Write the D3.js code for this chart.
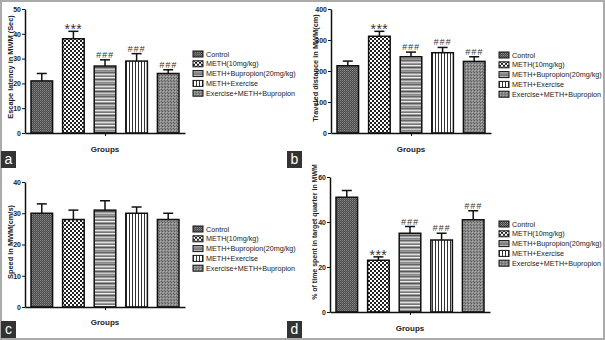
<!DOCTYPE html>
<html>
<head>
<meta charset="utf-8">
<script src="https://cdn.jsdelivr.net/npm/d3@7"></script>
<style>
body{margin:0;background:#fff;}
text{font-family:"Liberation Sans",Arial,sans-serif;}
</style>
</head>
<body>
<svg id="s"></svg>
<script>
var groups = ["Control","METH(10mg/kg)","METH+Bupropion(20mg/kg)","METH+Exercise","Exercise+METH+Bupropion"];

var escapeMean = [21,38,27,29,24];
var escapeErr  = [3,3,2.5,3,1.5];
var escapeSig  = ["","***","###","###","###"];

var distMean = [217,312,246,259,231];
var distErr  = [15,16,15,17,15];
var distSig  = ["","***","###","###","###"];

var speedMean = [30,28,31,30,28];
var speedErr  = [3,3,3,2,2];
var speedSig  = ["","","","",""];

var timeMean = [51,23,35,32,41];
var timeErr  = [3,1.5,3,3,4];
var timeSig  = ["","***","###","###","###"];

var escapeTicks = [0,10,20,30,40,50];
var distTicks = [0,100,200,300,400];
var speedTicks = [0,10,20,30,40];
var timeTicks = [0,20,40,60];

var patIds = ["pCtrl","pMeth","pBup","pEx","pEmb"];

var svg = d3.select('#s').attr('width',605).attr('height',340);

// fill patterns
var defs = svg.append('defs');
var p = defs.append('pattern').attr('id','pCtrl').attr('patternUnits','userSpaceOnUse').attr('width',2).attr('height',2);
p.append('rect').attr('width',2).attr('height',2).attr('fill','#4a4a4a');
p.append('rect').attr('width',1).attr('height',1).attr('fill','#8a8a8a');
p.append('rect').attr('x',1).attr('y',1).attr('width',1).attr('height',1).attr('fill','#6a6a6a');

p = defs.append('pattern').attr('id','pMeth').attr('patternUnits','userSpaceOnUse').attr('width',4).attr('height',4);
p.append('rect').attr('width',4).attr('height',4).attr('fill','#fff');
p.append('rect').attr('width',2).attr('height',2).attr('fill','#222');
p.append('rect').attr('x',2).attr('y',2).attr('width',2).attr('height',2).attr('fill','#222');

p = defs.append('pattern').attr('id','pBup').attr('patternUnits','userSpaceOnUse').attr('width',4).attr('height',12);
p.append('rect').attr('width',4).attr('height',12).attr('fill','#9a9a9a');
[["#666",0],["#ddd",2],["#777",4],["#eee",5],["#555",7],["#ccc",9],["#888",10]].forEach(function(r){
  p.append('rect').attr('y',r[1]).attr('width',4).attr('height',1).attr('fill',r[0]);
});

p = defs.append('pattern').attr('id','pEx').attr('patternUnits','userSpaceOnUse').attr('width',3).attr('height',3);
p.append('rect').attr('width',3).attr('height',3).attr('fill','#fff');
p.append('rect').attr('width',1).attr('height',3).attr('fill','#333');

p = defs.append('pattern').attr('id','pEmb').attr('patternUnits','userSpaceOnUse').attr('width',3).attr('height',3);
p.append('rect').attr('width',3).attr('height',3).attr('fill','#8c8c8c');
p.append('rect').attr('width',1).attr('height',1).attr('fill','#5a5a5a');
p.append('rect').attr('x',1).attr('y',1).attr('width',1).attr('height',1).attr('fill','#b0b0b0');
p.append('rect').attr('x',2).attr('y',2).attr('width',1).attr('height',1).attr('fill','#666');

// outer frame
svg.append('rect').attr('x',1).attr('y',1).attr('width',603).attr('height',338)
  .attr('fill','none').attr('stroke','#aaa').attr('stroke-width',2);

var panels = [
  {mean:escapeMean, err:escapeErr, sig:escapeSig, ticks:escapeTicks, max:50, x0:25, y0:133, y1:9,
   title:"Escape latency in MWM (Sec)", tx:10, ty:67, tfs:7.4, groupsY:152, legY:54, legX:193, tag:"a", tagX:1, tagY:151},
  {mean:distMean, err:distErr, sig:distSig, ticks:distTicks, max:400, x0:331, y0:133, y1:9,
   title:"Traveled distance in MWM(cm)", tx:315, ty:68, tfs:7.4, groupsY:152, legY:55, legX:499, tag:"b", tagX:287, tagY:151},
  {mean:speedMean, err:speedErr, sig:speedSig, ticks:speedTicks, max:40, x0:25, y0:307, y1:182,
   title:"Speed in MWM(cm/s)", tx:10, ty:242, tfs:7.4, groupsY:325, legY:229, legX:193, tag:"c", tagX:1, tagY:321},
  {mean:timeMean, err:timeErr, sig:timeSig, ticks:timeTicks, max:60, x0:330, y0:312, y1:177,
   title:"% of time spent in target quarter in MWM", tx:315, ty:232, tfs:7, groupsY:331, legY:224, legX:499, tag:"d", tagX:287, tagY:321}
];

panels.forEach(function(P){
  var g = svg.append('g');
  var x = d3.scaleBand().domain(groups).range([P.x0, P.x0+160]).paddingInner(0.317).paddingOuter(0.19);
  var y = d3.scaleLinear().domain([0,P.max]).range([P.y0,P.y1]);
  var rows = groups.map(function(d,i){return {g:d, m:P.mean[i], e:P.err[i], s:P.sig[i], i:i};});

  // error bars (upper only)
  g.selectAll('line.err').data(rows).enter().append('line')
    .attr('x1',function(d){return x(d.g)+x.bandwidth()/2;})
    .attr('x2',function(d){return x(d.g)+x.bandwidth()/2;})
    .attr('y1',function(d){return y(d.m);})
    .attr('y2',function(d){return y(d.m+d.e);})
    .attr('stroke','#111').attr('stroke-width',1.5);
  g.selectAll('line.cap').data(rows).enter().append('line')
    .attr('x1',function(d){return x(d.g)+x.bandwidth()/2-5;})
    .attr('x2',function(d){return x(d.g)+x.bandwidth()/2+5;})
    .attr('y1',function(d){return y(d.m+d.e);})
    .attr('y2',function(d){return y(d.m+d.e);})
    .attr('stroke','#111').attr('stroke-width',1.5);

  g.selectAll('rect.bar').data(rows).enter().append('rect')
    .attr('x',function(d){return x(d.g);})
    .attr('y',function(d){return y(d.m);})
    .attr('width',x.bandwidth())
    .attr('height',function(d){return y(0)-y(d.m);})
    .attr('fill',function(d){return 'url(#'+patIds[d.i]+')';})
    .attr('stroke','#111').attr('stroke-width',1.5);

  g.selectAll('text.sig').data(rows).enter().append('text')
    .attr('x',function(d){return x(d.g)+x.bandwidth()/2;})
    .attr('y',function(d){return y(d.m+d.e)+(d.s=="***"?3:-2);})
    .attr('text-anchor','middle')
    .attr('font-size',function(d){return d.s=="***"?14:9;})
    .attr('font-style',function(d){return d.s=="***"?'normal':'italic';})
    .attr('letter-spacing',function(d){return d.s=="***"?0.5:1;})
    .attr('fill','#333')
    .text(function(d){return d.s;});

  // y axis
  var ya = g.append('g').attr('transform','translate('+P.x0+',0)')
    .call(d3.axisLeft(y).tickValues(P.ticks).tickSize(3).tickSizeOuter(0).tickPadding(1));
  ya.select('.domain').attr('stroke','#111').attr('stroke-width',1.5);
  ya.selectAll('.tick line').attr('stroke','#111');
  ya.selectAll('.tick text').attr('font-size',7).attr('font-weight','bold').attr('fill','#222')
    .attr('font-family','"Liberation Sans",Arial,sans-serif');

  // x axis
  var xr = x.range();
  var xa = g.append('g').attr('transform','translate(0,'+P.y0+')')
    .call(d3.axisBottom(d3.scaleLinear().domain([0,1]).range(xr)).tickValues([0.5]).tickSize(3).tickSizeOuter(0).tickFormat(''));
  xa.select('.domain').attr('stroke','#111').attr('stroke-width',1.5);
  xa.selectAll('.tick line').attr('stroke','#111');

  g.append('text').attr('x',(xr[0]+xr[1])/2).attr('y',P.groupsY)
    .attr('text-anchor','middle').attr('font-size',8).attr('font-weight','bold').attr('fill','#222')
    .text('Groups');

  g.append('text').attr('transform','translate('+P.tx+','+P.ty+') rotate(-90)')
    .attr('text-anchor','middle').attr('dy','0.35em')
    .attr('font-size',P.tfs).attr('font-weight','bold').attr('fill','#222')
    .text(P.title);

  // legend
  var leg = g.selectAll('g.leg').data(rows).enter().append('g')
    .attr('transform',function(d){return 'translate('+P.legX+','+(P.legY+d.i*9.8)+')';});
  leg.append('rect').attr('x',0).attr('y',-3).attr('width',10).attr('height',6)
    .attr('fill',function(d){return 'url(#'+patIds[d.i]+')';})
    .attr('stroke','#111').attr('stroke-width',1);
  leg.append('text').attr('x',13).attr('dy','0.35em').attr('font-size',7.2).attr('fill','#222')
    .text(function(d){return d.g;});

  // panel tag
  g.append('rect').attr('x',P.tagX).attr('y',P.tagY).attr('width',15).attr('height',17).attr('fill','#333');
  g.append('text').attr('x',P.tagX+7.5).attr('y',P.tagY+13).attr('text-anchor','middle')
    .attr('font-size',14).attr('fill','#fff').text(P.tag);
});
</script>
</body>
</html>
